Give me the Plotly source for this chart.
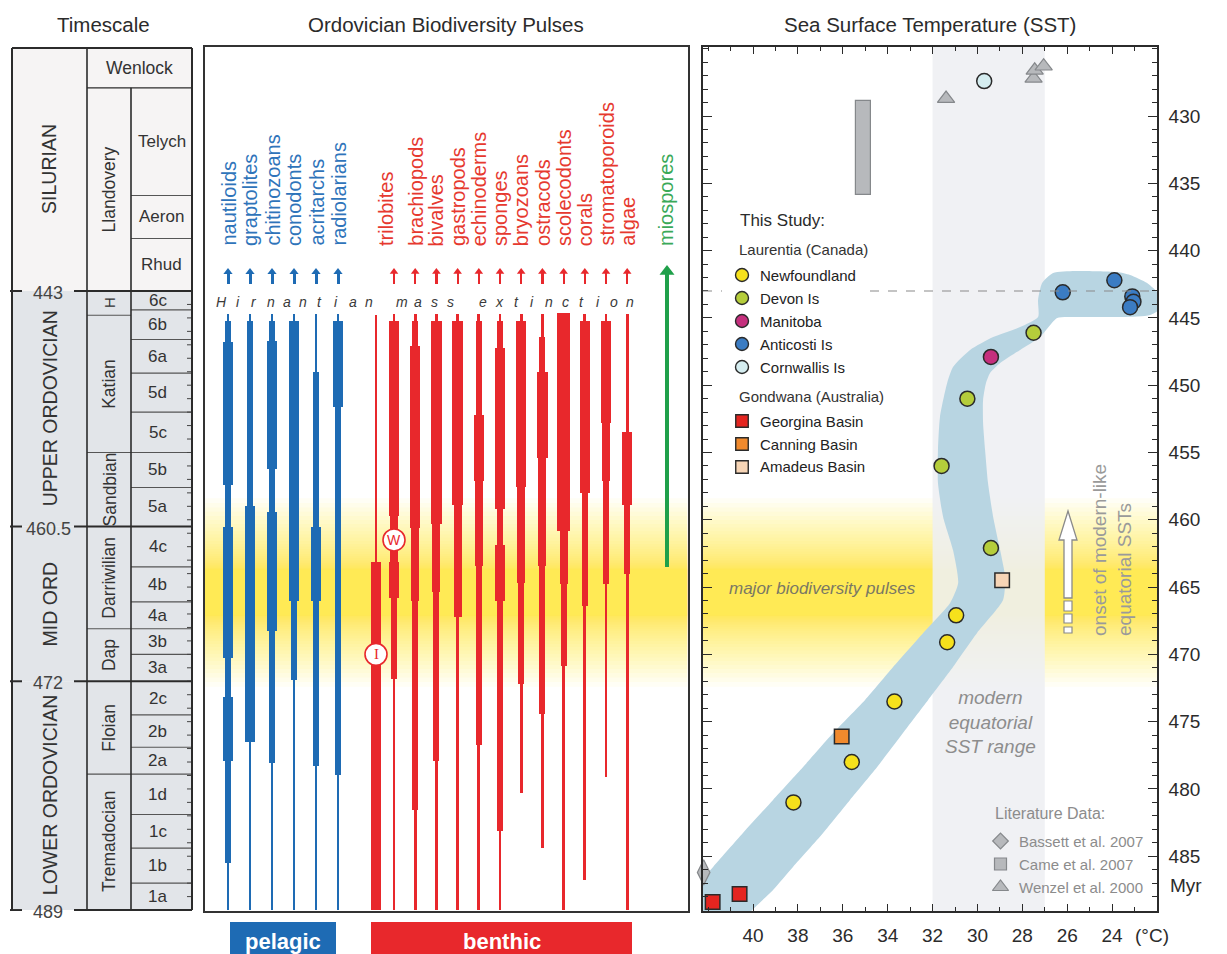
import plotly.graph_objects as go

W, H = 1227, 954
FONT = "Liberation Sans, Arial, Helvetica, sans-serif"
INK = "#2b2b2b"

# ---------------------------------------------------------------- age axis
AGE_TOP, AGE_BOTTOM = 424.87, 489.07          # Myr at top / bottom of the panels
PLOT_TOP_PX, PLOT_BOTTOM_PX = 47, 911

TS_LEFT, TS_RIGHT, TS_COL1, TS_COL2 = 12, 192, 87, 131
TS_TOP_AGE = 424.94
BIO_LEFT, BIO_RIGHT = 205, 687.5
SST_LEFT, SST_RIGHT = 703, 1157
SST_T_RANGE = (42.23, 22.0)

# ---------------------------------------------------------------- timescale
PERIOD_NAMES = ["SILURIAN", "UPPER ORDOVICIAN", "MID ORD", "LOWER ORDOVICIAN"]
PERIOD_BOUNDS = [TS_TOP_AGE, 443.0, 460.5, 472.0, 489.0]
BOUNDARY_AGES = [443.0, 460.5, 472.0, 489.0]
BOUNDARY_LABELS = ["443", "460.5", "472", "489"]

WENLOCK_BASE = 427.9
SERIES_NAMES = ["Llandovery", "H", "Katian", "Sandbian", "Darriwilian", "Dap", "Floian", "Tremadocian"]
SERIES_BOUNDS = [427.9, 443.0, 444.8, 455.0, 460.5, 468.1, 472.0, 478.9, 489.0]

SLICE_NAMES = ["Telych", "Aeron", "Rhud", "6c", "6b", "6a", "5d", "5c", "5b", "5a", "4c", "4b",
               "4a", "3b", "3a", "2c", "2b", "2a", "1d", "1c", "1b", "1a"]
SLICE_BOUNDS = [427.9, 435.9, 439.1, 443.0, 444.4, 446.6, 449.1, 452.0, 455.0, 457.6, 460.5, 463.5,
                466.1, 468.1, 470.0, 472.0, 474.5, 476.9, 478.9, 481.9, 484.4, 487.0, 489.0]

# ---------------------------------------------------------------- biodiversity ranges
# (age, diversity level from that age downwards); level 0 closes the range
# levels: 1 low, 2 moderate, 3 high, 4 very high, 5 peak
PELAGIC_TAXA = ["nautiloids", "graptolites", "chitinozoans", "conodonts", "acritarchs", "radiolarians"]
nautiloids = [(444.7, 1), (445.2, 2), (446.8, 4), (457.4, 2), (460.5, 4), (470.3, 2), (473.2, 4),
              (477.9, 2), (485.5, 1), (489.0, 0)]
graptolites = [(444.7, 1), (445.2, 2), (459.0, 4), (476.5, 1), (489.0, 0)]
chitinozoans = [(444.7, 1), (445.2, 2), (446.7, 4), (456.2, 2), (459.4, 4), (468.3, 2), (478.1, 1), (489.0, 0)]
conodonts = [(444.7, 1), (445.2, 4), (466.0, 2), (471.9, 1), (489.0, 0)]
acritarchs = [(444.7, 1), (449.0, 2), (460.5, 4), (466.0, 2), (478.3, 1), (489.0, 0)]
radiolarians = [(444.7, 1), (445.2, 4), (451.6, 2), (479.0, 1), (489.0, 0)]
PELAGIC_RANGES = [nautiloids, graptolites, chitinozoans, conodonts, acritarchs, radiolarians]

BENTHIC_TAXA = ["trilobites", "brachiopods", "bivalves", "gastropods", "echinoderms", "sponges",
                "bryozoans", "ostracods", "scolecodonts", "corals", "stromatoporoids", "algae"]
trilobites_ibex = [(444.8, 1), (463.1, 4), (489.0, 0)]
trilobites_whiterock = [(444.7, 1), (445.2, 4), (459.7, 3), (463.1, 4), (465.8, 2), (471.8, 1), (489.0, 0)]
brachiopods = [(444.7, 1), (445.2, 2), (447.1, 4), (460.6, 3), (466.0, 2), (481.6, 1), (489.0, 0)]
bivalves = [(444.7, 1), (445.2, 4), (460.3, 3), (465.4, 2), (477.9, 1), (489.0, 0)]
gastropods = [(444.7, 1), (445.2, 4), (458.9, 3), (467.2, 1), (489.0, 0)]
echinoderms = [(444.7, 1), (445.2, 2), (452.2, 4), (457.1, 3), (463.4, 2), (476.7, 1), (489.0, 0)]
sponges = [(444.7, 1), (445.2, 2), (447.2, 4), (459.2, 2), (461.9, 4), (466.0, 2), (483.1, 1), (489.0, 0)]
bryozoans = [(444.7, 1), (445.2, 4), (457.6, 3), (464.7, 2), (472.2, 1), (480.3, 0)]
ostracods = [(444.7, 1), (446.4, 2), (449.0, 4), (455.4, 3), (463.4, 2), (474.4, 1), (484.4, 0)]
scolecodonts = [(444.6, 5), (460.8, 3), (464.8, 2), (470.9, 1), (489.0, 0)]
corals = [(444.7, 1), (445.2, 4), (458.0, 2), (466.4, 1), (486.8, 0)]
stromatoporoids = [(444.7, 1), (445.2, 4), (452.8, 3), (457.1, 2), (464.8, 1), (479.1, 0)]
algae = [(444.7, 1), (453.5, 4), (458.9, 2), (464.0, 1), (489.0, 0)]
BENTHIC_RANGES = [trilobites_whiterock, brachiopods, bivalves, gastropods, echinoderms, sponges,
                  bryozoans, ostracods, scolecodonts, corals, stromatoporoids, algae]
MIOSPORE_FIRST = 463.5
WHITEROCK_MARK_AGE, IBEX_MARK_AGE = 461.5, 470.0
# interval of the main biodiversity pulses: core and fading edge (Myr)
PULSE_CENTER, PULSE_CORE, PULSE_EDGE = 465.4, 1.7, 7.0

# ---------------------------------------------------------------- sea surface temperature (°C, Myr)
NEWFOUNDLAND_T = [30.95, 31.35, 33.7, 35.6, 38.2]
NEWFOUNDLAND_AGE = [467.1, 469.1, 473.5, 478.0, 481.0]
DEVON_T = [27.5, 30.45, 31.6, 29.4]
DEVON_AGE = [446.1, 451.0, 456.0, 462.1]
MANITOBA_T = [29.4]
MANITOBA_AGE = [447.9]
ANTICOSTI_T = [26.2, 23.9, 23.1, 23.05, 23.2]
ANTICOSTI_AGE = [443.1, 442.2, 443.4, 443.8, 444.2]
CORNWALLIS_T = [29.7]
CORNWALLIS_AGE = [427.4]
GEORGINA_T = [41.8, 40.6]
GEORGINA_AGE = [488.4, 487.8]
CANNING_T = [36.05]
CANNING_AGE = [476.1]
AMADEUS_T = [28.9]
AMADEUS_AGE = [464.5]
BASSETT_T = [42.2]
BASSETT_AGE = [486.2]
CAME_T_RANGE = (35.41, 34.76)
CAME_AGE_RANGE = (428.9, 435.9)
WENZEL_T = [31.4, 27.5, 27.45, 27.05]
WENZEL_AGE = [428.7, 427.2, 426.6, 426.3]
MODERN_SST_RANGE = (32.0, 27.0)
HIRNANTIAN_BASE = 443.0

# envelope of the SST trend
SWATH_T = [44.14, 41.78, 40.45, 39.11, 37.77, 36.43, 35.01, 33.76, 32.42, 31.22, 30.86, 31.09, 31.53,
           31.76, 31.76, 31.67, 31.35, 31.09, 30.33, 29.30, 28.10, 27.30, 27.30, 27.12, 26.63, 25.65,
           23.78, 23.20, 22.44, 21.86, 21.64,
           22.31, 23.51, 25.74, 26.45, 27.21, 28.10, 28.99, 29.44, 29.62, 29.75, 29.75, 29.66, 29.53,
           29.30, 28.99, 28.77, 28.86, 30.02, 31.09, 32.20, 33.32, 34.47, 35.68, 36.88, 38.22, 39.11,
           40.13, 40.58]
SWATH_AGE = [490.11, 485.80, 483.28, 480.82, 478.37, 475.85, 473.39, 470.94, 468.41, 466.18, 464.70,
             462.25, 459.79, 457.27, 454.82, 452.36, 449.84, 448.65, 447.38, 446.42, 445.68, 444.93,
             443.67, 442.41, 441.66, 441.51, 441.59, 441.81, 442.41, 443.30, 444.04,
             444.78, 444.93, 444.93, 445.01, 446.42, 447.38, 448.35, 449.09, 449.84, 451.10, 452.81,
             454.82, 457.27, 459.79, 462.25, 464.25, 465.96, 468.41, 470.94, 473.39, 475.85, 478.37,
             480.82, 483.28, 485.80, 487.51, 489.15, 490.11]
TEMP_TICKS = [40, 38, 36, 34, 32, 30, 28, 26, 24]
AGE_TICKS = [430, 435, 440, 445, 450, 455, 460, 465, 470, 475, 480, 485]

LAURENTIA_SITES = ["Newfoundland", "Devon Is", "Manitoba", "Anticosti Is", "Cornwallis Is"]
GONDWANA_SITES = ["Georgina Basin", "Canning Basin", "Amadeus Basin"]
LITERATURE = ["Bassett et al. 2007", "Came et al. 2007", "Wenzel et al. 2000"]

# ---------------------------------------------------------------- styles
BLUE, RED, GREEN = "#1e6bb4", "#e8282c", "#1fa04a"
BLUE_TXT, RED_TXT, GREEN_TXT = "#2f74ba", "#e6392f", "#3aa958"
LEVEL_WIDTH = {1: 2.8, 2: 6.0, 3: 8.0, 4: 10.5, 5: 13.0}
SITE_STYLE = {
    "Newfoundland": ("circle", "#f6e11c"),
    "Devon Is": ("circle", "#b5cd3b"),
    "Manitoba": ("circle", "#c52f7d"),
    "Anticosti Is": ("circle", "#3b7cc3"),
    "Cornwallis Is": ("circle", "#d5edf0"),
    "Georgina Basin": ("square", "#e42520"),
    "Canning Basin": ("square", "#f18a2d"),
    "Amadeus Basin": ("square", "#f7d5b6"),
}
LIT_FILL, LIT_LINE, LIT_TXT = "#b7b9bc", "#85888b", "#8c8c8c"


def px_age(py):
    return AGE_TOP + (py - PLOT_TOP_PX) * (AGE_BOTTOM - AGE_TOP) / (PLOT_BOTTOM_PX - PLOT_TOP_PX)


def px_temp(px):
    t0, t1 = SST_T_RANGE
    return t0 + (px - SST_LEFT) * (t1 - t0) / (SST_RIGHT - SST_LEFT)


def pxx(px):
    return px / W


def pxy(py):
    return 1 - py / H


fig = go.Figure()
shapes, annotations = [], []


def ann(text, x, y, size=17, color=INK, xref="paper", yref="paper", family=FONT, **kw):
    d = dict(text=text, x=x, y=y, xref=xref, yref=yref, showarrow=False,
             xanchor="center", yanchor="middle",
             font=dict(family=family, size=size, color=color))
    d.update(kw)
    annotations.append(d)


def seg(x0, y0, x1, y1, width=1.0, color=INK, xref="x", yref="y", dash="solid"):
    shapes.append(dict(type="line", x0=x0, y0=y0, x1=x1, y1=y1, xref=xref, yref=yref,
                       line=dict(color=color, width=width, dash=dash)))


def box(x0, y0, x1, y1, fill, xref="x", yref="y", layer="below", line=None):
    shapes.append(dict(type="rect", x0=x0, y0=y0, x1=x1, y1=y1, xref=xref, yref=yref,
                       fillcolor=fill, line=line or dict(width=0), layer=layer))


# ================================================================ titles
ann("Timescale", pxx(103), pxy(25), size=20.5)
ann("Ordovician Biodiversity Pulses", pxx(446), pxy(25), size=20.5)
ann("Sea Surface Temperature (SST)", pxx(930), pxy(25), size=20.5)

# ================================================================ timescale column
fig.add_trace(go.Scatter(x=[None], y=[None], xaxis="x", yaxis="y", hoverinfo="skip"))
period_fill = ["#f6f4f4", "#e2e5e9", "#e2e5e9", "#e2e5e9"]
for name, a0, a1, fill in zip(PERIOD_NAMES, PERIOD_BOUNDS[:-1], PERIOD_BOUNDS[1:], period_fill):
    box(TS_LEFT, a0, TS_RIGHT, a1, fill)
    ann(name, (TS_LEFT + TS_COL1) / 2, (a0 + a1) / 2, size=19.5, color="#333", xref="x", yref="y",
        textangle=-90)

ann("Wenlock", (TS_COL1 + TS_RIGHT) / 2, (TS_TOP_AGE + WENLOCK_BASE) / 2, size=17.5, color="#333",
    xref="x", yref="y")
for name, a0, a1 in zip(SERIES_NAMES, SERIES_BOUNDS[:-1], SERIES_BOUNDS[1:]):
    ann(name, (TS_COL1 + TS_COL2) / 2, (a0 + a1) / 2, size=15 if len(name) == 1 else 17.5,
        color="#333", xref="x", yref="y", textangle=-90)
    if a1 not in BOUNDARY_AGES:
        seg(TS_COL1, a1, TS_COL2, a1, width=1.1, color="#555")
for name, a0, a1 in zip(SLICE_NAMES, SLICE_BOUNDS[:-1], SLICE_BOUNDS[1:]):
    xc = (TS_COL2 + TS_RIGHT) / 2 - (4 if len(name) <= 2 else 0)
    ann(name, xc, (a0 + a1) / 2, size=17, color="#333", xref="x", yref="y")
    if a1 not in BOUNDARY_AGES:
        seg(TS_COL2, a1, TS_RIGHT, a1, width=1.1, color="#555")

# 1-Myr ticks on the right edge of the Ordovician part
for a in range(int(HIRNANTIAN_BASE), 490):
    seg(TS_RIGHT - 5, a, TS_RIGHT, a, width=1.0, color="#444")

seg(TS_COL1, TS_TOP_AGE, TS_COL1, 489.0, width=1.6)
seg(TS_COL2, WENLOCK_BASE, TS_COL2, 489.0, width=1.6)
seg(TS_COL1, WENLOCK_BASE, TS_RIGHT, WENLOCK_BASE, width=1.3)
seg(TS_LEFT, TS_TOP_AGE, TS_RIGHT, TS_TOP_AGE, width=2)
seg(TS_LEFT, TS_TOP_AGE, TS_LEFT, 489.0, width=2)
seg(TS_RIGHT, TS_TOP_AGE, TS_RIGHT, 489.0, width=2)
label_gap = (22, 74)
for age, lab in zip(BOUNDARY_AGES, BOUNDARY_LABELS):
    seg(TS_LEFT - 2, age, label_gap[0], age, width=2)
    seg(label_gap[1], age, TS_RIGHT, age, width=2)
    ann(lab, sum(label_gap) / 2, age, size=18, color="#444", xref="x", yref="y", yshift=-2)


# ================================================================ biodiversity panel
def pulse_glow(xref, yref, x0, x1, n=30):
    # stacked translucent bands: saturated core, soft fading edges
    for k in range(n):
        h = PULSE_CORE + (PULSE_EDGE - PULSE_CORE) * ((n - k) / n) ** 2
        box(x0, PULSE_CENTER - h, x1, PULSE_CENTER + h, "rgba(255,236,40,0.047)", xref=xref, yref=yref)


pulse_glow("x2", "y2", BIO_LEFT, BIO_RIGHT)

PEL_X0, PEL_STEP = 228, 22
BEN_X0, BEN_STEP = 394, 21.2
IBEX_OFFSET = -18
MIOSPORE_X = 667
pel_x = [PEL_X0 + i * PEL_STEP for i in range(len(PELAGIC_TAXA))]
ben_x = [BEN_X0 + i * BEN_STEP for i in range(len(BENTHIC_TAXA))]
ibex_x = ben_x[0] + IBEX_OFFSET


def range_bars(ranges, xs, color):
    bx, base, length, width = [], [], [], []
    for prof, xc in zip(ranges, xs):
        for (a0, lvl), (a1, _) in zip(prof[:-1], prof[1:]):
            bx.append(xc)
            base.append(a0)
            length.append(a1 - a0)
            width.append(LEVEL_WIDTH[lvl])
    fig.add_trace(go.Bar(x=bx, y=length, base=base, width=width, marker=dict(color=color, line=dict(width=0)),
                         xaxis="x2", yaxis="y2", hoverinfo="skip"))


range_bars(PELAGIC_RANGES, pel_x, BLUE)
range_bars([trilobites_ibex] + BENTHIC_RANGES, [ibex_x] + ben_x, RED)

# arrows above the ranges
ARROW_TIP_PX, ARROW_TAIL_PX = 268, 284


def arrows(xs, color, shaft, head, tip_px=ARROW_TIP_PX, tail_age=None):
    r = head / 2
    tail = tail_age if tail_age is not None else px_age(ARROW_TAIL_PX)
    top = px_age(tip_px + r)
    fig.add_trace(go.Bar(x=xs, y=[tail - top] * len(xs), base=[top] * len(xs), width=[shaft] * len(xs),
                         marker=dict(color=color, line=dict(width=0)), xaxis="x2", yaxis="y2",
                         hoverinfo="skip"))
    fig.add_trace(go.Scatter(x=xs, y=[px_age(tip_px + r)] * len(xs), mode="markers",
                             marker=dict(symbol="triangle-up", size=head, color=color, line=dict(width=0)),
                             xaxis="x2", yaxis="y2", hoverinfo="skip", cliponaxis=False))


arrows(pel_x, BLUE, 3.0, 8)
arrows(ben_x, RED, 2.2, 7.5)
arrows([MIOSPORE_X], GREEN, 4.5, 13, tip_px=265, tail_age=MIOSPORE_FIRST)

# taxa names
LABEL_BASE = px_age(248)
for name, xc in zip(PELAGIC_TAXA, pel_x):
    ann(name, xc, LABEL_BASE, size=20, color=BLUE_TXT, xref="x2", yref="y2", textangle=-90,
        yanchor="bottom")
for i, (name, xc) in enumerate(zip(BENTHIC_TAXA, ben_x)):
    if i == 0:
        xc = (ibex_x + xc) / 2 + 1
    ann(name, xc, LABEL_BASE, size=20, color=RED_TXT, xref="x2", yref="y2", textangle=-90,
        yanchor="bottom")
ann("miospores", MIOSPORE_X - 1, LABEL_BASE, size=20, color=GREEN_TXT, xref="x2", yref="y2",
    textangle=-90, yanchor="bottom")

# extinction caption, letter-spaced
EXTINCTION_TEXT = "Hirnantian mass extinction"
for i, ch in enumerate(EXTINCTION_TEXT):
    if ch != " ":
        ann("<i>" + ch + "</i>", 221.7 + i * 16.35, px_age(302), size=14, color="#3a3a3a",
            xref="x2", yref="y2")

# trilobite faunas
fig.add_trace(go.Scatter(
    x=[ben_x[0], ibex_x], y=[WHITEROCK_MARK_AGE, IBEX_MARK_AGE], mode="markers",
    marker=dict(symbol="circle", size=22, color="white", line=dict(color=RED, width=1.6)),
    xaxis="x2", yaxis="y2", hoverinfo="skip"))
ann("W", ben_x[0], WHITEROCK_MARK_AGE, size=14, color=RED, xref="x2", yref="y2")
ann("I", ibex_x, IBEX_MARK_AGE, size=15, color=RED, xref="x2", yref="y2",
    family="Liberation Serif, Times New Roman, serif")

# habitat bars under the panel
box(pxx(230), pxy(962), pxx(336), pxy(922), BLUE, xref="paper", yref="paper", layer="above")
box(pxx(371), pxy(962), pxx(632), pxy(922), RED, xref="paper", yref="paper", layer="above")
ann("<b>pelagic</b>", pxx(283), pxy(941), size=22, color="white")
ann("<b>benthic</b>", pxx(502), pxy(941), size=22, color="white")

# ================================================================ SST panel
pulse_glow("x3", "y3", SST_T_RANGE[0], SST_T_RANGE[1])
box(MODERN_SST_RANGE[0], AGE_TOP, MODERN_SST_RANGE[1], AGE_BOTTOM, "rgba(238,239,242,0.88)",
    xref="x3", yref="y3")

fig.add_trace(go.Scatter(x=SWATH_T, y=SWATH_AGE, mode="lines", fill="toself", fillcolor="#b8d5e2",
                         line=dict(width=0, shape="spline", smoothing=0.6), xaxis="x3", yaxis="y3",
                         hoverinfo="skip"))

# Hirnantian base, interrupted by the key
seg(SST_T_RANGE[0], HIRNANTIAN_BASE, px_temp(722), HIRNANTIAN_BASE, width=1.2, color="#8a8a8a",
    xref="x3", yref="y3", dash="dash")
seg(px_temp(870), HIRNANTIAN_BASE, SST_T_RANGE[1], HIRNANTIAN_BASE, width=1.2, color="#8a8a8a",
    xref="x3", yref="y3", dash="dash")

# literature data
fig.add_trace(go.Bar(x=[sum(CAME_T_RANGE) / 2], base=[CAME_AGE_RANGE[0]],
                     y=[CAME_AGE_RANGE[1] - CAME_AGE_RANGE[0]],
                     width=[abs(CAME_T_RANGE[0] - CAME_T_RANGE[1])],
                     marker=dict(color=LIT_FILL, line=dict(color=LIT_LINE, width=1.2)),
                     xaxis="x3", yaxis="y3", hoverinfo="skip"))
fig.add_trace(go.Scatter(x=WENZEL_T, y=WENZEL_AGE, mode="markers",
                         marker=dict(symbol="triangle-up", size=15, color=LIT_FILL,
                                     line=dict(color=LIT_LINE, width=1.2)),
                         xaxis="x3", yaxis="y3", hoverinfo="skip"))
fig.add_trace(go.Scatter(x=BASSETT_T, y=BASSETT_AGE, mode="markers",
                         marker=dict(symbol="diamond-tall", size=18, color=LIT_FILL,
                                     line=dict(color=LIT_LINE, width=1.2)),
                         xaxis="x3", yaxis="y3", hoverinfo="skip", cliponaxis=False))

# this study
site_data = {
    "Newfoundland": (NEWFOUNDLAND_T, NEWFOUNDLAND_AGE),
    "Devon Is": (DEVON_T, DEVON_AGE),
    "Manitoba": (MANITOBA_T, MANITOBA_AGE),
    "Anticosti Is": (ANTICOSTI_T, ANTICOSTI_AGE),
    "Cornwallis Is": (CORNWALLIS_T, CORNWALLIS_AGE),
    "Georgina Basin": (GEORGINA_T, GEORGINA_AGE),
    "Canning Basin": (CANNING_T, CANNING_AGE),
    "Amadeus Basin": (AMADEUS_T, AMADEUS_AGE),
}
for site, (ts, ages) in site_data.items():
    sym, col = SITE_STYLE[site]
    fig.add_trace(go.Scatter(x=ts, y=ages, mode="markers",
                             marker=dict(symbol=sym, size=15 if sym == "circle" else 14.5, color=col,
                                         line=dict(color="#2a2a2a", width=1.5)),
                             xaxis="x3", yaxis="y3", hoverinfo="skip", cliponaxis=False))

# key: this study
ann("This Study:", pxx(738), pxy(220), size=17, xanchor="left")
ann("Laurentia (Canada)", pxx(737), pxy(249), size=15, color="#333", xanchor="left")
ann("Gondwana (Australia)", pxx(737), pxy(396), size=15, color="#333", xanchor="left")
key_rows = [(s, 275 + 23 * i) for i, s in enumerate(LAURENTIA_SITES)] + \
           [(s, 421 + 23 * i) for i, s in enumerate(GONDWANA_SITES)]
for site, py in key_rows:
    sym, col = SITE_STYLE[site]
    fig.add_trace(go.Scatter(x=[px_temp(742)], y=[px_age(py)], mode="markers",
                             marker=dict(symbol=sym, size=13 if sym == "circle" else 12.5, color=col,
                                         line=dict(color="#2a2a2a", width=1.4)),
                             xaxis="x3", yaxis="y3", hoverinfo="skip", cliponaxis=False))
    ann(site, pxx(758), pxy(py), size=15, color="#222", xanchor="left")

# key: literature
ann("Literature Data:", pxx(993), pxy(813), size=16, color=LIT_TXT, xanchor="left")
lit_symbols = ["diamond", "square", "triangle-up"]
lit_sizes = [12, 12, 14]
for i, (name, sym, sz) in enumerate(zip(LITERATURE, lit_symbols, lit_sizes)):
    py = 841 + 23 * i
    fig.add_trace(go.Scatter(x=[px_temp(1000.5)], y=[px_age(py)], mode="markers",
                             marker=dict(symbol=sym, size=sz, color=LIT_FILL, line=dict(color=LIT_LINE, width=1.2)),
                             xaxis="x3", yaxis="y3", hoverinfo="skip", cliponaxis=False))
    ann(name, pxx(1017), pxy(py), size=15, color=LIT_TXT, xanchor="left")

# panel captions
ann("<i>major biodiversity pulses</i>", pxx(727), pxy(588), size=17, color="#7a7864", xanchor="left")
ann("<i>modern<br>equatorial<br>SST range</i>", pxx(990), pxy(722), size=19, color="#8d8d8d")
ann("onset of modern-like<br>equatorial SSTs", pxx(1112), pxy(550), size=19, color="#9a9a9a",
    textangle=-90, align="left")
ann("Myr", pxx(1186), pxy(885), size=19)
ann("(°C)", pxx(1152), pxy(935), size=19)

# open arrow marking the onset of modern-like SSTs
ax_c = px_temp(1068)
hw_s = px_temp(1068) - px_temp(1072)
hw_h = px_temp(1068) - px_temp(1077)
y_tip, y_base, y_end = px_age(511), px_age(540), px_age(598)
arrow_path = (f"M{ax_c - hw_s},{y_end} L{ax_c - hw_s},{y_base} L{ax_c - hw_h},{y_base} "
              f"L{ax_c},{y_tip} L{ax_c + hw_h},{y_base} L{ax_c + hw_s},{y_base} L{ax_c + hw_s},{y_end} Z")
shapes.append(dict(type="path", path=arrow_path, xref="x3", yref="y3", fillcolor="white",
                   line=dict(color="#8a8a8a", width=1.3), layer="above"))
for p0, p1 in [(601, 611), (614, 623), (627, 633)]:
    box(ax_c - hw_s, px_age(p0), ax_c + hw_s, px_age(p1), "white", xref="x3", yref="y3", layer="above",
        line=dict(color="#8a8a8a", width=1.2))

# ================================================================ layout
ydom = [pxy(PLOT_BOTTOM_PX), pxy(PLOT_TOP_PX)]
bare = dict(showgrid=False, zeroline=False, showticklabels=False, ticks="", fixedrange=True)
tickfont = dict(family=FONT, size=19, color=INK)
fig.update_layout(
    width=W, height=H, margin=dict(l=0, r=0, t=0, b=0),
    paper_bgcolor="white", plot_bgcolor="white",
    showlegend=False, barmode="overlay", bargap=0,
    shapes=shapes, annotations=annotations,
    xaxis=dict(domain=[pxx(10), pxx(194)], range=[10, 194], visible=False, **bare),
    yaxis=dict(domain=ydom, range=[AGE_BOTTOM, AGE_TOP], visible=False, **bare),
    xaxis2=dict(anchor="y2", domain=[pxx(BIO_LEFT), pxx(BIO_RIGHT)], range=[BIO_LEFT, BIO_RIGHT],
                showline=True, mirror=True, linewidth=2, linecolor="#333", **bare),
    yaxis2=dict(anchor="x2", domain=ydom, range=[AGE_BOTTOM, AGE_TOP],
                showline=True, mirror=True, linewidth=2, linecolor="#333", **bare),
    xaxis3=dict(anchor="y3", domain=[pxx(SST_LEFT), pxx(SST_RIGHT)], range=list(SST_T_RANGE),
                tickmode="array", tickvals=TEMP_TICKS, ticktext=[str(t) for t in TEMP_TICKS],
                ticks="inside", ticklen=7, tickwidth=1.2, tickcolor=INK,
                minor=dict(tickmode="array", tickvals=list(range(23, 43)), ticks="inside", ticklen=4,
                           tickwidth=1, tickcolor=INK),
                showline=True, linewidth=1.6, linecolor=INK, mirror="ticks",
                showgrid=False, zeroline=False, tickfont=tickfont, ticklabelstandoff=6, fixedrange=True),
    yaxis3=dict(anchor="x3", side="right", domain=ydom, range=[AGE_BOTTOM, AGE_TOP],
                tickmode="array", tickvals=AGE_TICKS, ticktext=[str(a) for a in AGE_TICKS],
                ticks="inside", ticklen=9, tickwidth=1.2, tickcolor=INK,
                minor=dict(tickmode="array", tickvals=list(range(425, 490)), ticks="inside", ticklen=5,
                           tickwidth=1, tickcolor=INK),
                showline=True, linewidth=1.6, linecolor=INK, mirror="ticks",
                showgrid=False, zeroline=False, tickfont=tickfont, ticklabelstandoff=6, fixedrange=True),
)

fig.write_html("out.html")
